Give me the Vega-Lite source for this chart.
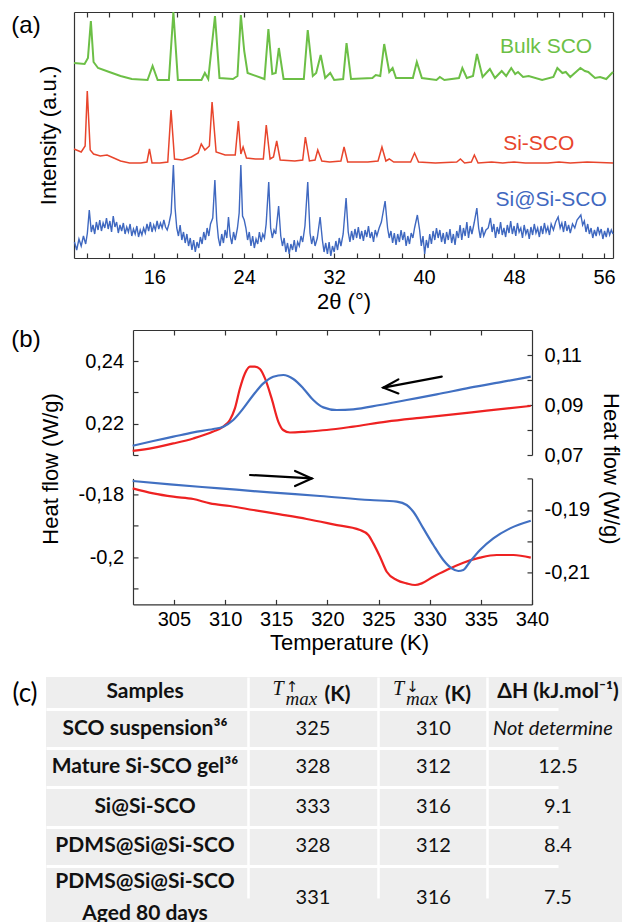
{
"$schema": "https://vega.github.io/schema/vega-lite/v6.json",
"padding": {"left": 10, "top": 8, "right": 0, "bottom": 0},
"background": "white",
"spacing": 10,
"config": {
  "view": {"stroke": null},
  "font": "Liberation Sans",
  "axis": {"labelFont": "Liberation Sans", "titleFont": "Liberation Sans", "labelColor": "#000", "titleColor": "#000", "domainColor": "#333", "tickColor": "#333", "domainWidth": 1.2, "tickWidth": 1.2, "grid": false, "labelFontSize": 20, "titleFontSize": 22, "titleFontWeight": "normal", "labelFlush": false, "labelOverlap": false}
},
"datasets": {
  "panelLabels": [{"panel": "a", "label": "(a)"}, {"panel": "b", "label": "(b)"}, {"panel": "c", "label": "(c)"}],
  "bulk": [
    {"angle":8.86,"intensity":195},{"angle":9.8,"intensity":194},{"angle":10.1,"intensity":200},{"angle":10.36,"intensity":237},{"angle":10.6,"intensity":196},{"angle":11.0,"intensity":190},{"angle":12.0,"intensity":186},{"angle":13.0,"intensity":182},{"angle":14.0,"intensity":179},{"angle":15.4,"intensity":178},{"angle":15.85,"intensity":192},{"angle":16.3,"intensity":178},{"angle":17.3,"intensity":178},{"angle":17.7,"intensity":246},{"angle":18.1,"intensity":178},{"angle":20.2,"intensity":178},{"angle":20.5,"intensity":185},{"angle":20.8,"intensity":179},{"angle":21.4,"intensity":242},{"angle":21.8,"intensity":180},{"angle":23.0,"intensity":179},{"angle":23.4,"intensity":182},{"angle":23.7,"intensity":243},{"angle":24.0,"intensity":207},{"angle":24.3,"intensity":185},{"angle":25.8,"intensity":179},{"angle":26.15,"intensity":229},{"angle":26.5,"intensity":184},{"angle":26.8,"intensity":185},{"angle":27.08,"intensity":210},{"angle":27.5,"intensity":179},{"angle":29.3,"intensity":179},{"angle":29.65,"intensity":228},{"angle":30.1,"intensity":182},{"angle":30.4,"intensity":185},{"angle":30.8,"intensity":203},{"angle":31.2,"intensity":180},{"angle":31.65,"intensity":185},{"angle":32.0,"intensity":178},{"angle":32.8,"intensity":179},{"angle":33.1,"intensity":215},{"angle":33.5,"intensity":179},{"angle":35.4,"intensity":180},{"angle":35.7,"intensity":183},{"angle":36.1,"intensity":182},{"angle":36.45,"intensity":214},{"angle":36.9,"intensity":186},{"angle":37.2,"intensity":190},{"angle":37.5,"intensity":180},{"angle":39.0,"intensity":180},{"angle":39.35,"intensity":196},{"angle":39.8,"intensity":180},{"angle":41.1,"intensity":178},{"angle":41.4,"intensity":181},{"angle":41.8,"intensity":178},{"angle":43.1,"intensity":180},{"angle":43.4,"intensity":190},{"angle":43.8,"intensity":180},{"angle":44.35,"intensity":182},{"angle":44.7,"intensity":204},{"angle":45.2,"intensity":181},{"angle":45.85,"intensity":189},{"angle":46.3,"intensity":180},{"angle":46.9,"intensity":187},{"angle":47.3,"intensity":182},{"angle":47.75,"intensity":190},{"angle":48.1,"intensity":184},{"angle":48.35,"intensity":186},{"angle":48.8,"intensity":181},{"angle":49.3,"intensity":182},{"angle":50.5,"intensity":178},{"angle":51.5,"intensity":181},{"angle":51.85,"intensity":190},{"angle":52.3,"intensity":185},{"angle":52.6,"intensity":186},{"angle":53.0,"intensity":181},{"angle":53.9,"intensity":190},{"angle":54.3,"intensity":187},{"angle":54.6,"intensity":186},{"angle":55.2,"intensity":180},{"angle":55.65,"intensity":181},{"angle":56.2,"intensity":179},{"angle":56.8,"intensity":186}
  ],
  "sisco": [
    {"angle":8.86,"intensity":109},{"angle":9.5,"intensity":106},{"angle":9.85,"intensity":112},{"angle":10.04,"intensity":167},{"angle":10.3,"intensity":108},{"angle":10.6,"intensity":104},{"angle":11.2,"intensity":102},{"angle":11.8,"intensity":103},{"angle":12.4,"intensity":100},{"angle":13.0,"intensity":97},{"angle":13.8,"intensity":95},{"angle":14.8,"intensity":95},{"angle":15.35,"intensity":96},{"angle":15.57,"intensity":109},{"angle":15.8,"intensity":95},{"angle":16.5,"intensity":95},{"angle":17.2,"intensity":96},{"angle":17.49,"intensity":148},{"angle":17.8,"intensity":99},{"angle":18.5,"intensity":98},{"angle":19.3,"intensity":101},{"angle":19.9,"intensity":105},{"angle":20.18,"intensity":114},{"angle":20.5,"intensity":108},{"angle":20.9,"intensity":112},{"angle":21.14,"intensity":156},{"angle":21.5,"intensity":106},{"angle":22.3,"intensity":103},{"angle":23.2,"intensity":103},{"angle":23.48,"intensity":137},{"angle":23.7,"intensity":104},{"angle":23.9,"intensity":111},{"angle":24.2,"intensity":100},{"angle":25.0,"intensity":99},{"angle":25.7,"intensity":99},{"angle":25.96,"intensity":133},{"angle":26.3,"intensity":99},{"angle":26.6,"intensity":101},{"angle":26.89,"intensity":117},{"angle":27.2,"intensity":98},{"angle":28.5,"intensity":97},{"angle":29.2,"intensity":98},{"angle":29.44,"intensity":121},{"angle":29.8,"intensity":97},{"angle":30.3,"intensity":98},{"angle":30.54,"intensity":108},{"angle":30.9,"intensity":97},{"angle":31.6,"intensity":96},{"angle":32.6,"intensity":97},{"angle":32.88,"intensity":111},{"angle":33.2,"intensity":96},{"angle":35.0,"intensity":96},{"angle":35.9,"intensity":97},{"angle":36.25,"intensity":111},{"angle":36.6,"intensity":97},{"angle":36.9,"intensity":99},{"angle":37.3,"intensity":96},{"angle":38.8,"intensity":96},{"angle":39.15,"intensity":105},{"angle":39.5,"intensity":96},{"angle":41.0,"intensity":95},{"angle":42.9,"intensity":96},{"angle":43.23,"intensity":99},{"angle":43.6,"intensity":95},{"angle":44.2,"intensity":96},{"angle":44.47,"intensity":103},{"angle":44.8,"intensity":95},{"angle":46.0,"intensity":96},{"angle":47.0,"intensity":95},{"angle":48.0,"intensity":96},{"angle":49.0,"intensity":95},{"angle":51.0,"intensity":95},{"angle":52.0,"intensity":96},{"angle":53.0,"intensity":95},{"angle":54.5,"intensity":96},{"angle":56.8,"intensity":95}
  ],
  "sisisco": [
    {"angle":8.9,"intensity":16},{"angle":9.1,"intensity":8},{"angle":9.3,"intensity":19},{"angle":9.5,"intensity":12},{"angle":9.7,"intensity":22},{"angle":9.9,"intensity":14},{"angle":10.05,"intensity":25},{"angle":10.22,"intensity":48},{"angle":10.4,"intensity":26},{"angle":10.55,"intensity":33},{"angle":10.7,"intensity":24},{"angle":10.85,"intensity":36},{"angle":11.0,"intensity":28},{"angle":11.15,"intensity":38},{"angle":11.3,"intensity":27},{"angle":11.45,"intensity":35},{"angle":11.6,"intensity":30},{"angle":11.75,"intensity":40},{"angle":11.9,"intensity":29},{"angle":12.05,"intensity":37},{"angle":12.2,"intensity":26},{"angle":12.35,"intensity":42},{"angle":12.5,"intensity":31},{"angle":12.65,"intensity":36},{"angle":12.8,"intensity":25},{"angle":12.95,"intensity":33},{"angle":13.1,"intensity":27},{"angle":13.25,"intensity":35},{"angle":13.4,"intensity":24},{"angle":13.55,"intensity":31},{"angle":13.7,"intensity":26},{"angle":13.85,"intensity":34},{"angle":14.0,"intensity":22},{"angle":14.15,"intensity":29},{"angle":14.3,"intensity":24},{"angle":14.45,"intensity":32},{"angle":14.6,"intensity":21},{"angle":14.75,"intensity":28},{"angle":14.9,"intensity":23},{"angle":15.05,"intensity":30},{"angle":15.2,"intensity":25},{"angle":15.35,"intensity":34},{"angle":15.5,"intensity":27},{"angle":15.65,"intensity":36},{"angle":15.8,"intensity":26},{"angle":15.95,"intensity":33},{"angle":16.1,"intensity":28},{"angle":16.25,"intensity":37},{"angle":16.4,"intensity":29},{"angle":16.55,"intensity":35},{"angle":16.7,"intensity":30},{"angle":16.85,"intensity":38},{"angle":17.0,"intensity":31},{"angle":17.15,"intensity":28},{"angle":17.3,"intensity":34},{"angle":17.5,"intensity":45},{"angle":17.7,"intensity":93},{"angle":17.85,"intensity":50},{"angle":18.0,"intensity":30},{"angle":18.15,"intensity":22},{"angle":18.3,"intensity":33},{"angle":18.45,"intensity":18},{"angle":18.6,"intensity":26},{"angle":18.75,"intensity":15},{"angle":18.9,"intensity":24},{"angle":19.05,"intensity":12},{"angle":19.2,"intensity":20},{"angle":19.35,"intensity":8},{"angle":19.5,"intensity":18},{"angle":19.65,"intensity":6},{"angle":19.8,"intensity":16},{"angle":19.95,"intensity":10},{"angle":20.1,"intensity":21},{"angle":20.25,"intensity":14},{"angle":20.4,"intensity":26},{"angle":20.55,"intensity":18},{"angle":20.7,"intensity":30},{"angle":20.85,"intensity":22},{"angle":21.0,"intensity":34},{"angle":21.2,"intensity":40},{"angle":21.39,"intensity":78},{"angle":21.55,"intensity":38},{"angle":21.7,"intensity":20},{"angle":21.85,"intensity":12},{"angle":22.0,"intensity":24},{"angle":22.15,"intensity":15},{"angle":22.3,"intensity":28},{"angle":22.45,"intensity":20},{"angle":22.6,"intensity":41},{"angle":22.75,"intensity":22},{"angle":22.9,"intensity":14},{"angle":23.05,"intensity":26},{"angle":23.2,"intensity":18},{"angle":23.4,"intensity":30},{"angle":23.55,"intensity":45},{"angle":23.7,"intensity":93},{"angle":23.85,"intensity":42},{"angle":24.0,"intensity":38},{"angle":24.15,"intensity":30},{"angle":24.3,"intensity":18},{"angle":24.45,"intensity":26},{"angle":24.6,"intensity":12},{"angle":24.75,"intensity":22},{"angle":24.9,"intensity":10},{"angle":25.05,"intensity":19},{"angle":25.2,"intensity":14},{"angle":25.35,"intensity":26},{"angle":25.5,"intensity":16},{"angle":25.65,"intensity":24},{"angle":25.8,"intensity":20},{"angle":25.95,"intensity":34},{"angle":26.18,"intensity":76},{"angle":26.35,"intensity":30},{"angle":26.5,"intensity":20},{"angle":26.65,"intensity":28},{"angle":26.8,"intensity":24},{"angle":27.06,"intensity":52},{"angle":27.25,"intensity":22},{"angle":27.4,"intensity":12},{"angle":27.55,"intensity":20},{"angle":27.7,"intensity":6},{"angle":27.85,"intensity":15},{"angle":28.0,"intensity":4},{"angle":28.15,"intensity":14},{"angle":28.3,"intensity":8},{"angle":28.45,"intensity":18},{"angle":28.6,"intensity":6},{"angle":28.75,"intensity":16},{"angle":28.9,"intensity":12},{"angle":29.05,"intensity":22},{"angle":29.2,"intensity":16},{"angle":29.4,"intensity":32},{"angle":29.65,"intensity":76},{"angle":29.85,"intensity":25},{"angle":30.0,"intensity":14},{"angle":30.15,"intensity":22},{"angle":30.3,"intensity":12},{"angle":30.5,"intensity":20},{"angle":30.75,"intensity":41},{"angle":30.95,"intensity":18},{"angle":31.1,"intensity":6},{"angle":31.25,"intensity":15},{"angle":31.4,"intensity":4},{"angle":31.55,"intensity":16},{"angle":31.7,"intensity":2},{"angle":31.85,"intensity":12},{"angle":32.0,"intensity":6},{"angle":32.15,"intensity":17},{"angle":32.3,"intensity":8},{"angle":32.45,"intensity":20},{"angle":32.6,"intensity":12},{"angle":32.8,"intensity":24},{"angle":33.06,"intensity":60},{"angle":33.25,"intensity":26},{"angle":33.4,"intensity":16},{"angle":33.55,"intensity":27},{"angle":33.7,"intensity":18},{"angle":33.85,"intensity":29},{"angle":34.0,"intensity":20},{"angle":34.15,"intensity":31},{"angle":34.3,"intensity":19},{"angle":34.45,"intensity":27},{"angle":34.6,"intensity":17},{"angle":34.75,"intensity":28},{"angle":34.9,"intensity":21},{"angle":35.05,"intensity":32},{"angle":35.2,"intensity":20},{"angle":35.35,"intensity":26},{"angle":35.5,"intensity":16},{"angle":35.65,"intensity":28},{"angle":35.8,"intensity":22},{"angle":36.0,"intensity":30},{"angle":36.2,"intensity":36},{"angle":36.53,"intensity":57},{"angle":36.75,"intensity":30},{"angle":36.9,"intensity":20},{"angle":37.05,"intensity":27},{"angle":37.2,"intensity":15},{"angle":37.35,"intensity":25},{"angle":37.5,"intensity":13},{"angle":37.65,"intensity":24},{"angle":37.8,"intensity":16},{"angle":37.95,"intensity":28},{"angle":38.1,"intensity":18},{"angle":38.25,"intensity":26},{"angle":38.4,"intensity":12},{"angle":38.55,"intensity":22},{"angle":38.7,"intensity":14},{"angle":38.85,"intensity":25},{"angle":39.0,"intensity":20},{"angle":39.15,"intensity":30},{"angle":39.4,"intensity":43},{"angle":39.6,"intensity":28},{"angle":39.75,"intensity":12},{"angle":39.9,"intensity":22},{"angle":40.05,"intensity":4},{"angle":40.2,"intensity":18},{"angle":40.35,"intensity":10},{"angle":40.5,"intensity":24},{"angle":40.65,"intensity":14},{"angle":40.8,"intensity":27},{"angle":40.95,"intensity":18},{"angle":41.1,"intensity":30},{"angle":41.25,"intensity":20},{"angle":41.4,"intensity":28},{"angle":41.55,"intensity":16},{"angle":41.7,"intensity":25},{"angle":41.85,"intensity":14},{"angle":42.0,"intensity":26},{"angle":42.15,"intensity":18},{"angle":42.3,"intensity":29},{"angle":42.45,"intensity":15},{"angle":42.6,"intensity":24},{"angle":42.75,"intensity":13},{"angle":42.9,"intensity":27},{"angle":43.05,"intensity":20},{"angle":43.2,"intensity":33},{"angle":43.35,"intensity":18},{"angle":43.5,"intensity":30},{"angle":43.65,"intensity":22},{"angle":43.8,"intensity":36},{"angle":43.95,"intensity":20},{"angle":44.1,"intensity":32},{"angle":44.25,"intensity":24},{"angle":44.45,"intensity":35},{"angle":44.69,"intensity":50},{"angle":44.85,"intensity":30},{"angle":45.0,"intensity":20},{"angle":45.15,"intensity":31},{"angle":45.3,"intensity":22},{"angle":45.5,"intensity":28},{"angle":45.7,"intensity":30},{"angle":45.9,"intensity":40},{"angle":46.05,"intensity":26},{"angle":46.2,"intensity":34},{"angle":46.35,"intensity":20},{"angle":46.5,"intensity":31},{"angle":46.65,"intensity":24},{"angle":46.8,"intensity":36},{"angle":46.95,"intensity":23},{"angle":47.1,"intensity":30},{"angle":47.25,"intensity":21},{"angle":47.4,"intensity":33},{"angle":47.55,"intensity":25},{"angle":47.7,"intensity":37},{"angle":47.85,"intensity":24},{"angle":48.0,"intensity":32},{"angle":48.15,"intensity":22},{"angle":48.3,"intensity":35},{"angle":48.45,"intensity":26},{"angle":48.6,"intensity":30},{"angle":48.75,"intensity":20},{"angle":48.9,"intensity":33},{"angle":49.05,"intensity":24},{"angle":49.2,"intensity":29},{"angle":49.35,"intensity":19},{"angle":49.5,"intensity":31},{"angle":49.65,"intensity":23},{"angle":49.8,"intensity":34},{"angle":49.95,"intensity":25},{"angle":50.1,"intensity":30},{"angle":50.25,"intensity":21},{"angle":50.4,"intensity":32},{"angle":50.55,"intensity":24},{"angle":50.7,"intensity":35},{"angle":50.85,"intensity":26},{"angle":51.0,"intensity":31},{"angle":51.15,"intensity":23},{"angle":51.3,"intensity":34},{"angle":51.5,"intensity":28},{"angle":51.7,"intensity":36},{"angle":51.92,"intensity":41},{"angle":52.1,"intensity":30},{"angle":52.25,"intensity":35},{"angle":52.4,"intensity":26},{"angle":52.55,"intensity":37},{"angle":52.7,"intensity":27},{"angle":52.85,"intensity":33},{"angle":53.0,"intensity":25},{"angle":53.2,"intensity":34},{"angle":53.4,"intensity":30},{"angle":53.6,"intensity":38},{"angle":53.94,"intensity":43},{"angle":54.1,"intensity":33},{"angle":54.25,"intensity":37},{"angle":54.4,"intensity":26},{"angle":54.55,"intensity":34},{"angle":54.7,"intensity":24},{"angle":54.85,"intensity":30},{"angle":55.0,"intensity":20},{"angle":55.15,"intensity":28},{"angle":55.3,"intensity":22},{"angle":55.45,"intensity":31},{"angle":55.6,"intensity":24},{"angle":55.75,"intensity":29},{"angle":55.9,"intensity":19},{"angle":56.05,"intensity":27},{"angle":56.2,"intensity":21},{"angle":56.35,"intensity":30},{"angle":56.5,"intensity":23},{"angle":56.65,"intensity":28},{"angle":56.8,"intensity":24}
  ],
  "xrdLabels": [
    {"label":"Bulk SCO","angle":50.85,"intensity":211},
    {"label":"Si-SCO","angle":50.2,"intensity":114},
    {"label":"Si@Si-SCO","angle":51.3,"intensity":58}
  ],
  "redCool": [
    {"T":300.97,"hf":0.2113},{"T":302.98,"hf":0.2123},{"T":304.94,"hf":0.2137},{"T":306.89,"hf":0.2153},{"T":308.84,"hf":0.2175},{"T":309.82,"hf":0.2191},{"T":310.47,"hf":0.2212},{"T":310.96,"hf":0.2249},{"T":311.45,"hf":0.2313},{"T":311.94,"hf":0.2361},{"T":312.43,"hf":0.2383},{"T":312.92,"hf":0.2383},{"T":313.41,"hf":0.2375},{"T":313.9,"hf":0.2345},{"T":314.55,"hf":0.2281},{"T":315.2,"hf":0.2207},{"T":315.68,"hf":0.2180},{"T":316.34,"hf":0.2172},{"T":317.97,"hf":0.2175},{"T":319.93,"hf":0.2180},{"T":322.53,"hf":0.2191},{"T":325.79,"hf":0.2207},{"T":329.05,"hf":0.2219},{"T":332.3,"hf":0.2230},{"T":335.57,"hf":0.2242},{"T":339.87,"hf":0.2257}
  ],
  "blueCool": [
    {"T":300.97,"hf":0.07372},{"T":302.98,"hf":0.0756},{"T":304.94,"hf":0.07732},{"T":306.9,"hf":0.07904},{"T":308.85,"hf":0.0804},{"T":309.83,"hf":0.08132},{"T":310.8,"hf":0.084},{"T":311.78,"hf":0.08864},{"T":312.76,"hf":0.094},{"T":313.74,"hf":0.09864},{"T":314.71,"hf":0.10132},{"T":315.69,"hf":0.102},{"T":316.67,"hf":0.1004},{"T":317.65,"hf":0.09664},{"T":318.62,"hf":0.092},{"T":319.6,"hf":0.08904},{"T":320.91,"hf":0.088},{"T":322.53,"hf":0.08824},{"T":325.14,"hf":0.09},{"T":327.75,"hf":0.092},{"T":330.68,"hf":0.09424},{"T":333.94,"hf":0.09692},{"T":337.2,"hf":0.09932},{"T":339.88,"hf":0.10132}
  ],
  "redHeat": [
    {"T":300.97,"hf":-0.17817},{"T":302.98,"hf":-0.17976},{"T":304.94,"hf":-0.18081},{"T":306.89,"hf":-0.18154},{"T":308.53,"hf":-0.18294},{"T":310.48,"hf":-0.18376},{"T":312.76,"hf":-0.18503},{"T":315.37,"hf":-0.18643},{"T":317.98,"hf":-0.18789},{"T":320.58,"hf":-0.1896},{"T":323.19,"hf":-0.19138},{"T":324.0,"hf":-0.19297},{"T":324.49,"hf":-0.19563},{"T":325.14,"hf":-0.19986},{"T":325.8,"hf":-0.20462},{"T":326.78,"hf":-0.20725},{"T":327.75,"hf":-0.20833},{"T":328.57,"hf":-0.20884},{"T":329.22,"hf":-0.20833},{"T":330.35,"hf":-0.2062},{"T":331.66,"hf":-0.20408},{"T":333.29,"hf":-0.20176},{"T":334.92,"hf":-0.20017},{"T":336.55,"hf":-0.19932},{"T":338.18,"hf":-0.19932},{"T":339.88,"hf":-0.20017}
  ],
  "blueHeat": [
    {"T":300.97,"hf":-0.18083},{"T":304.62,"hf":-0.1819},{"T":309.5,"hf":-0.18317},{"T":314.39,"hf":-0.18444},{"T":319.28,"hf":-0.18559},{"T":324.17,"hf":-0.18686},{"T":326.78,"hf":-0.1874},{"T":327.75,"hf":-0.18844},{"T":328.4,"hf":-0.19057},{"T":329.38,"hf":-0.19587},{"T":330.36,"hf":-0.20114},{"T":331.33,"hf":-0.2059},{"T":332.15,"hf":-0.20857},{"T":332.8,"hf":-0.2094},{"T":333.29,"hf":-0.20908},{"T":333.94,"hf":-0.20644},{"T":334.92,"hf":-0.20273},{"T":336.22,"hf":-0.19905},{"T":337.85,"hf":-0.19587},{"T":339.88,"hf":-0.19343}
  ],
  "arrowCool": [
    {"part":"shaft","step":1,"T":331.18,"hf":0.23506},{"part":"shaft","step":2,"T":325.47,"hf":0.23154},
    {"part":"head","step":1,"T":326.94,"hf":0.2342},{"part":"head","step":2,"T":325.47,"hf":0.23154},{"part":"head","step":3,"T":326.94,"hf":0.2297}
  ],
  "arrowHeat": [
    {"part":"shaft","step":1,"T":312.44,"hf":-0.17392},{"part":"shaft","step":2,"T":318.47,"hf":-0.175},
    {"part":"head","step":1,"T":316.84,"hf":-0.17265},{"part":"head","step":2,"T":318.47,"hf":-0.175},{"part":"head","step":3,"T":316.84,"hf":-0.17741}
  ],
  "table": [
    {"row":0,"col":0,"text":"Samples"},
    {"row":0,"col":1,"sym":"T","arrow":"↑","sub":"max","unit":"(K)"},
    {"row":0,"col":2,"sym":"T","arrow":"↓","sub":"max","unit":"(K)"},
    {"row":0,"col":3,"text":"ΔH (kJ.mol⁻¹)"},
    {"row":1,"col":0,"text":"SCO suspension³⁶"},
    {"row":1,"col":1,"text":"325"},
    {"row":1,"col":2,"text":"310"},
    {"row":1,"col":3,"text":"Not determined"},
    {"row":2,"col":0,"text":"Mature Si-SCO gel³⁶"},
    {"row":2,"col":1,"text":"328"},
    {"row":2,"col":2,"text":"312"},
    {"row":2,"col":3,"text":"12.5"},
    {"row":3,"col":0,"text":"Si@Si-SCO"},
    {"row":3,"col":1,"text":"333"},
    {"row":3,"col":2,"text":"316"},
    {"row":3,"col":3,"text":"9.1"},
    {"row":4,"col":0,"text":"PDMS@Si@Si-SCO"},
    {"row":4,"col":1,"text":"328"},
    {"row":4,"col":2,"text":"312"},
    {"row":4,"col":3,"text":"8.4"},
    {"row":5,"col":0,"text":"PDMS@Si@Si-SCO\nAged 80 days"},
    {"row":5,"col":1,"text":"331"},
    {"row":5,"col":2,"text":"316"},
    {"row":5,"col":3,"text":"7.5"}
  ]
},
"vconcat": [
  {
    "hconcat": [
      {
        "vconcat": [
          {"width": 32, "height": 28, "data": {"name": "panelLabels"}, "transform": [{"filter": "datum.panel == 'a'"}],
           "mark": {"type": "text", "fontSize": 24, "font": "Liberation Sans", "color": "#000"}, "encoding": {"text": {"field": "label"}}},
          {"width": 32, "height": 278, "data": {"values": []}, "mark": {"type": "text"}, "encoding": {}}
        ],
        "spacing": 0, "bounds": "flush"
      },
      {
        "width": 539, "height": 246,
        "layer": [
          {"data": {"name": "bulk"}, "mark": {"type": "line", "color": "#6cbf46", "strokeWidth": 2},
           "encoding": {
             "x": {"field": "angle", "type": "quantitative", "scale": {"domain": [8.86, 56.8], "nice": false, "zero": false},
                   "axis": {"orient": "bottom", "values": [10,12,14,16,18,20,22,24,26,28,30,32,34,36,38,40,42,44,46,48,50,52,54,56], "labelExpr": "datum.value % 8 === 0 ? datum.label : ''", "tickSize": -5, "labelPadding": 14, "title": "2θ (°)", "titleY": 33}},
             "y": {"field": "intensity", "type": "quantitative", "scale": {"domain": [0, 246], "nice": false, "zero": false},
                   "axis": {"orient": "left", "labels": false, "ticks": false, "title": "Intensity (a.u.)", "titleX": -14}}
           }},
          {"data": {"name": "sisco"}, "mark": {"type": "line", "color": "#e8452c", "strokeWidth": 1.5},
           "encoding": {
             "x": {"field": "angle", "type": "quantitative", "scale": {"domain": [8.86, 56.8], "nice": false, "zero": false}, "axis": null},
             "y": {"field": "intensity", "type": "quantitative", "scale": {"domain": [0, 246], "nice": false, "zero": false}, "axis": null}
           }},
          {"data": {"name": "sisisco"}, "mark": {"type": "line", "color": "#3f68c0", "strokeWidth": 1.4},
           "encoding": {
             "x": {"field": "angle", "type": "quantitative", "scale": {"domain": [8.86, 56.8], "nice": false, "zero": false}, "axis": null},
             "y": {"field": "intensity", "type": "quantitative", "scale": {"domain": [0, 246], "nice": false, "zero": false}, "axis": null}
           }},
          {"data": {"name": "xrdLabels"}, "mark": {"type": "text", "fontSize": 21, "font": "Liberation Sans"},
           "encoding": {
             "x": {"field": "angle", "type": "quantitative", "scale": {"domain": [8.86, 56.8], "nice": false, "zero": false},
                   "axis": {"orient": "top", "values": [10,12,14,16,18,20,22,24,26,28,30,32,34,36,38,40,42,44,46,48,50,52,54,56], "labels": false, "tickSize": -5, "title": null}},
             "y": {"field": "intensity", "type": "quantitative", "scale": {"domain": [0, 246], "nice": false, "zero": false},
                   "axis": {"orient": "right", "labels": false, "ticks": false, "title": null}},
             "text": {"field": "label"},
             "color": {"field": "label", "type": "nominal", "scale": {"domain": ["Bulk SCO", "Si-SCO", "Si@Si-SCO"], "range": ["#6cbf46", "#e8452c", "#3f68c0"]}, "legend": null}
           }}
        ],
        "resolve": {"axis": {"x": "independent", "y": "independent"}}
      }
    ],
    "spacing": 64, "bounds": "flush"
  },
  {
    "hconcat": [
      {
        "vconcat": [
          {"width": 32, "height": 20, "data": {"name": "panelLabels"}, "transform": [{"filter": "datum.panel == 'b'"}],
           "mark": {"type": "text", "fontSize": 24, "font": "Liberation Sans", "color": "#000"}, "encoding": {"text": {"field": "label"}}},
          {"width": 32, "height": 317, "data": {"values": []}, "mark": {"type": "text"}, "encoding": {}}
        ],
        "spacing": 0, "bounds": "flush"
      },
      {
        "vconcat": [
          {
            "width": 399, "height": 125,
            "layer": [
              {"data": {"name": "redCool"}, "mark": {"type": "line", "color": "#ee2222", "strokeWidth": 2.2, "interpolate": "monotone"},
               "encoding": {
                 "x": {"field": "T", "type": "quantitative", "scale": {"domain": [301, 340], "nice": false, "zero": false},
                       "axis": {"orient": "top", "values": [305,310,315,320,325,330,335], "labels": false, "tickSize": -5, "title": null}},
                 "y": {"field": "hf", "type": "quantitative", "scale": {"domain": [0.21, 0.25], "nice": false, "zero": false},
                       "axis": {"orient": "left", "values": [0.21,0.22,0.23,0.24], "tickSize": -5, "labelPadding": 14.4, "labelExpr": "indexof([22,24], round(datum.value*100)) >= 0 ? replace(format(datum.value, '.2f'), '.', ',') : ''", "title": "Heat flow (W/g)", "titleX": -71, "titleY": 138.4}}
               }},
              {"data": {"name": "blueCool"}, "mark": {"type": "line", "color": "#4170c2", "strokeWidth": 2.2, "interpolate": "monotone"},
               "encoding": {
                 "x": {"field": "T", "type": "quantitative", "scale": {"domain": [301, 340], "nice": false, "zero": false}, "axis": null},
                 "y": {"field": "hf", "type": "quantitative", "scale": {"domain": [0.07, 0.12], "nice": false, "zero": false},
                       "axis": {"orient": "right", "values": [0.07,0.08,0.09,0.10,0.11], "tickSize": -5, "labelPadding": 17, "labelExpr": "indexof([7,9,11], round(datum.value*100)) >= 0 ? replace(format(datum.value, '.2f'), '.', ',') : ''", "title": "Heat flow (W/g)", "titleX": 66, "titleY": 138.4}}
               }},
              {"data": {"name": "arrowCool"}, "mark": {"type": "line", "color": "#000", "strokeWidth": 2.2, "strokeCap": "round"},
               "encoding": {
                 "x": {"field": "T", "type": "quantitative", "scale": {"domain": [301, 340], "nice": false, "zero": false}, "axis": null},
                 "y": {"field": "hf", "type": "quantitative", "scale": {"domain": [0.21, 0.25], "nice": false, "zero": false}, "axis": null},
                 "detail": {"field": "part"},
                 "order": {"field": "step"}
               }}
            ],
            "resolve": {"scale": {"y": "independent"}, "axis": {"x": "independent", "y": "independent"}}
          },
          {
            "width": 399, "height": 126,
            "layer": [
              {"data": {"name": "redHeat"}, "mark": {"type": "line", "color": "#ee2222", "strokeWidth": 2.2, "interpolate": "monotone"},
               "encoding": {
                 "x": {"field": "T", "type": "quantitative", "scale": {"domain": [301, 340], "nice": false, "zero": false},
                       "axis": {"orient": "bottom", "values": [305,310,315,320,325,330,335,340], "tickSize": -5, "labelPadding": 10.5, "title": "Temperature (K)", "titleX": 216, "titleY": 28.5}},
                 "y": {"field": "hf", "type": "quantitative", "scale": {"domain": [-0.215, -0.175], "nice": false, "zero": false},
                       "axis": {"orient": "left", "values": [-0.18,-0.19,-0.2,-0.21], "tickSize": -5, "labelPadding": 14.4, "labelExpr": "indexof([-18,-20], round(datum.value*100)) >= 0 ? '-' + replace(format(abs(datum.value), '.2~f'), '.', ',') : ''", "title": null}}
               }},
              {"data": {"name": "blueHeat"}, "mark": {"type": "line", "color": "#4170c2", "strokeWidth": 2.2, "interpolate": "monotone"},
               "encoding": {
                 "x": {"field": "T", "type": "quantitative", "scale": {"domain": [301, 340], "nice": false, "zero": false}, "axis": null},
                 "y": {"field": "hf", "type": "quantitative", "scale": {"domain": [-0.22, -0.18], "nice": false, "zero": false},
                       "axis": {"orient": "right", "values": [-0.18,-0.19,-0.2,-0.21], "tickSize": -5, "labelPadding": 17, "labelExpr": "indexof([-19,-21], round(datum.value*100)) >= 0 ? '-' + replace(format(abs(datum.value), '.2~f'), '.', ',') : ''", "title": null}}
               }},
              {"data": {"name": "arrowHeat"}, "mark": {"type": "line", "color": "#000", "strokeWidth": 2.2, "strokeCap": "round"},
               "encoding": {
                 "x": {"field": "T", "type": "quantitative", "scale": {"domain": [301, 340], "nice": false, "zero": false}, "axis": null},
                 "y": {"field": "hf", "type": "quantitative", "scale": {"domain": [-0.215, -0.175], "nice": false, "zero": false}, "axis": null},
                 "detail": {"field": "part"},
                 "order": {"field": "step"}
               }}
            ],
            "resolve": {"scale": {"y": "independent"}, "axis": {"x": "independent", "y": "independent"}}
          }
        ],
        "spacing": 23.4, "bounds": "flush"
      }
    ],
    "spacing": 123, "bounds": "flush"
  },
  {
    "hconcat": [
      {"width": 30, "height": 33, "data": {"name": "panelLabels"}, "transform": [{"filter": "datum.panel == 'c'"}],
       "mark": {"type": "text", "fontSize": 26, "font": "Lato", "color": "#000"}, "encoding": {"text": {"field": "label"}}},
      {
        "width": 576, "height": 247,
        "view": {"fill": "#eeeeee", "stroke": null},
        "data": {"name": "table"},
        "encoding": {
          "x": {"field": "col", "type": "quantitative", "scale": {"domain": [-0.5, 0, 0.5, 1, 1.5, 2, 2.5, 3], "range": [0, 99, 202.2, 267, 331.7, 387.5, 441.2, 512], "nice": false, "zero": false},
                "axis": {"orient": "top", "values": [0.5, 1.5, 2.5], "grid": true, "gridColor": "#ffffff", "gridWidth": 2.5, "gridOpacity": 1, "domain": false, "ticks": false, "labels": false, "title": null}},
          "y": {"field": "row", "type": "quantitative", "scale": {"domain": [-0.5, 0, 0.5, 1, 1.5, 2, 2.5, 3, 3.5, 4, 4.5, 5], "range": [0, 15, 31.7, 51.7, 71.2, 90.3, 109.7, 129.7, 149.5, 169, 188.7, 221], "nice": false, "zero": false},
                "axis": {"orient": "left", "values": [0.5, 1.5, 2.5, 3.5, 4.5], "grid": true, "gridColor": "#ffffff", "gridWidth": 3, "gridOpacity": 1, "domain": false, "ticks": false, "labels": false, "title": null}}
        },
        "layer": [
          {"transform": [{"filter": "datum.text != null && (datum.col == 0 || datum.row == 0) && !(datum.row == 5 && datum.col == 0)"}],
           "mark": {"type": "text", "font": "Lato", "fontWeight": "bold", "fontSize": 21, "color": "#111"},
           "encoding": {"text": {"field": "text"}}},
          {"transform": [{"filter": "datum.row == 5 && datum.col == 0"}],
           "mark": {"type": "text", "font": "Lato", "fontWeight": "bold", "fontSize": 21, "lineBreak": "\n", "lineHeight": 31.7, "dy": -15.85, "color": "#111"},
           "encoding": {"text": {"field": "text"}}},
          {"transform": [{"filter": "datum.text != null && datum.col > 0 && datum.row > 0 && datum.text != 'Not determined'"}],
           "mark": {"type": "text", "font": "Lato", "fontSize": 20, "color": "#111"},
           "encoding": {"text": {"field": "text"}}},
          {"transform": [{"filter": "datum.text == 'Not determined'"}],
           "mark": {"type": "text", "font": "Lato", "fontStyle": "italic", "fontSize": 20, "color": "#111", "align": "left", "dx": -65, "limit": 127, "ellipsis": "\u200b"},
           "encoding": {"text": {"field": "text"}}},
          {"transform": [{"filter": "datum.sym != null"}],
           "mark": {"type": "text", "font": "Liberation Serif", "fontStyle": "italic", "fontSize": 20, "color": "#111", "align": "left", "baseline": "alphabetic", "dx": -40.5, "dy": 3.3},
           "encoding": {"text": {"field": "sym"}}},
          {"transform": [{"filter": "datum.arrow != null"}],
           "mark": {"type": "text", "font": "DejaVu Sans", "fontSize": 15, "color": "#111", "align": "center", "baseline": "middle", "dx": -21, "dy": -5},
           "encoding": {"text": {"field": "arrow"}}},
          {"transform": [{"filter": "datum.sub != null"}],
           "mark": {"type": "text", "font": "Liberation Serif", "fontStyle": "italic", "fontSize": 19, "color": "#111", "align": "left", "baseline": "alphabetic", "dx": -27.5, "dy": 12.7},
           "encoding": {"text": {"field": "sub"}}},
          {"transform": [{"filter": "datum.unit != null"}],
           "mark": {"type": "text", "font": "Lato", "fontWeight": "bold", "fontSize": 21, "color": "#111", "align": "left", "baseline": "middle", "dx": 11.5, "dy": 2.8},
           "encoding": {"text": {"field": "unit"}}}
        ]
      }
    ],
    "spacing": 6, "bounds": "flush"
  }
]
}
